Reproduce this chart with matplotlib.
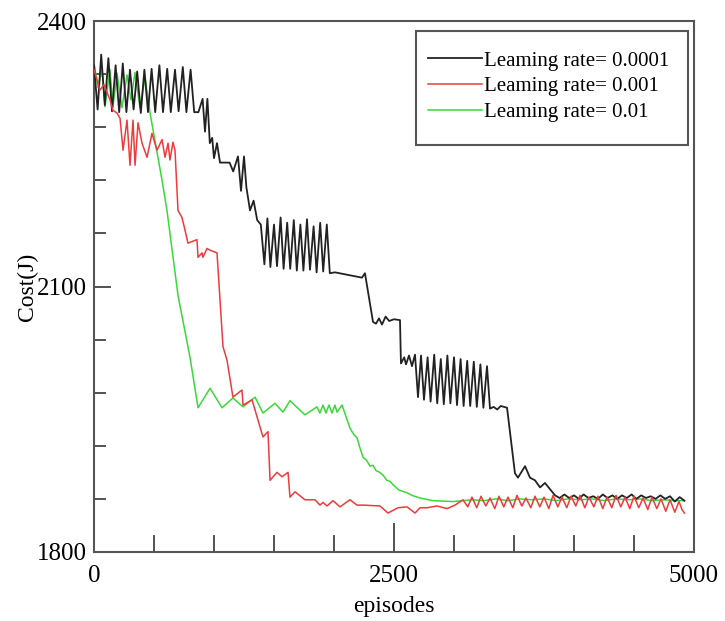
import numpy as np
import matplotlib
matplotlib.use("Agg")
import matplotlib.pyplot as plt
from matplotlib.ticker import MultipleLocator
from matplotlib.patches import Rectangle

# Learning rate = 0.0001 (black)
ep_lr4 = [0, 30, 60, 90, 120, 150, 180, 210, 240, 270, 300, 330, 360, 390, 420, 450,
          480, 510, 545, 575, 610, 640, 675, 705, 740, 770, 805, 835, 870,
          905, 925, 945, 965, 985, 1000, 1025, 1050, 1080, 1130, 1160, 1200, 1225,
          1250, 1270, 1300, 1330, 1360, 1390,
          1420, 1445, 1470, 1500, 1525, 1555, 1580, 1610, 1635, 1665, 1690, 1720,
          1745, 1775, 1800, 1830, 1855, 1885, 1910, 1940, 1965, 2008,
          2233, 2258, 2325, 2350, 2375, 2400, 2430, 2460, 2500, 2550, 2558,
          2585, 2600, 2625, 2650, 2675,
          2700, 2725, 2750, 2780, 2805, 2835, 2860, 2890, 2915, 2945, 2970, 3000,
          3025, 3055, 3080, 3110, 3135, 3165, 3190, 3220, 3245, 3275, 3300,
          3330, 3360, 3390, 3442, 3508, 3533, 3592, 3633, 3675, 3717, 3758, 3842,
          3880, 3920, 3960, 4000, 4040, 4080, 4120, 4160, 4200, 4240, 4280, 4320,
          4360, 4400, 4440, 4480, 4520, 4560, 4600, 4640, 4680, 4720, 4760, 4800,
          4840, 4880, 4920]
cost_lr4 = [2350, 2300, 2362, 2305, 2358, 2298, 2350, 2297, 2352, 2297, 2345, 2300,
            2343, 2296, 2345, 2297, 2346, 2297, 2350, 2297, 2346, 2297, 2345, 2298,
            2348, 2297, 2345, 2297, 2297,
            2312, 2275, 2312, 2262, 2268, 2245, 2262, 2240, 2240, 2240, 2230, 2247,
            2208, 2247, 2212, 2186, 2197, 2175, 2170,
            2125, 2177, 2122, 2170, 2123, 2178, 2120, 2172, 2120, 2175, 2118, 2170,
            2118, 2176, 2119, 2168, 2116, 2172, 2117, 2170, 2115, 2116,
            2110, 2115, 2060, 2058, 2064, 2057, 2066, 2061, 2063, 2062, 2013,
            2020, 2012, 2022, 2010, 2023,
            1975, 2022, 1972, 2020, 1970, 2023, 1968, 2018, 1967, 2022, 1968, 2020,
            1966, 2018, 1965, 2016, 1965, 2015, 1964, 2012, 1963, 2010, 1962,
            1964, 1961, 1965, 1963, 1889, 1884, 1897, 1884, 1881, 1873, 1878, 1864,
            1861, 1865, 1861, 1864, 1860, 1865, 1861, 1863, 1860, 1865, 1861, 1864,
            1860, 1864, 1861, 1865, 1860, 1864, 1861, 1863, 1860, 1864, 1860, 1863,
            1857, 1862, 1858]

# Learning rate = 0.001 (red)
ep_lr3 = [0, 50, 83, 133, 158, 192, 217, 242, 275, 300, 325, 342, 367, 400, 442,
          483, 525, 567, 592, 617, 633, 658, 675, 700, 733, 758, 783, 858, 867,
          900, 908, 942, 967, 1025, 1075, 1108, 1158, 1233, 1242, 1317, 1408, 1450,
          1467, 1525, 1567, 1617, 1633, 1675, 1758, 1842, 1883, 1908, 1942, 1992,
          2050, 2133, 2192, 2242, 2383, 2450, 2533, 2608, 2675, 2717, 2775, 2858,
          2942, 3008, 3075,
          3115, 3150, 3190, 3225, 3265, 3300, 3340, 3375, 3415, 3450, 3490, 3525,
          3565, 3600, 3640, 3675, 3715, 3750, 3790, 3825, 3865, 3900, 3940, 3975,
          4015, 4050, 4090, 4125, 4165, 4200, 4240, 4275, 4315, 4350, 4390, 4425,
          4465, 4500, 4540, 4575, 4615, 4650, 4690, 4725, 4765, 4800, 4840, 4875,
          4900, 4920]
cost_lr3 = [2345, 2322, 2328, 2311, 2299, 2296, 2290, 2254, 2288, 2237, 2288, 2237,
            2285, 2262, 2246, 2273, 2254, 2266, 2246, 2262, 2243, 2263, 2254, 2186,
            2178, 2164, 2149, 2153, 2133, 2138, 2133, 2143, 2141, 2138, 2032, 2017,
            1975, 1983, 1966, 1972, 1930, 1936, 1881, 1890, 1885, 1890, 1862, 1868,
            1859, 1859, 1853, 1856, 1852, 1858, 1851, 1859, 1853, 1853, 1852, 1844,
            1850, 1851, 1844, 1850, 1850, 1852, 1849, 1853, 1859,
            1851, 1862, 1850, 1863, 1852, 1861, 1849, 1863, 1851, 1862, 1850, 1864,
            1852, 1861, 1850, 1863, 1851, 1862, 1849, 1864, 1851, 1862, 1850, 1863,
            1852, 1864, 1850, 1862, 1851, 1863, 1849, 1862, 1850, 1864, 1851, 1862,
            1849, 1863, 1850, 1861, 1848, 1862, 1849, 1860, 1846, 1859, 1845, 1857,
            1848, 1844]

# Learning rate = 0.01 (green)
ep_lr2 = [0, 33, 67, 92, 133, 158, 192, 233, 275, 308, 342, 383, 425, 467, 567,
          608, 700, 800, 867, 967, 1067, 1158, 1242, 1342, 1408, 1508, 1575, 1633,
          1758, 1858, 1883, 1908, 1933, 1958, 1983, 2008, 2025, 2067, 2133, 2150,
          2170, 2192, 2215, 2242, 2270, 2300, 2325, 2350, 2380, 2408, 2440, 2465,
          2492, 2540, 2608, 2650, 2717, 2825, 2992, 3075,
          3150, 3250, 3350, 3450, 3550, 3650, 3750, 3850, 3950, 4050, 4150, 4250,
          4350, 4450, 4550, 4650, 4750, 4850, 4920]
cost_lr2 = [2352, 2325, 2345, 2303, 2345, 2303, 2341, 2302, 2339, 2311, 2342, 2302,
            2336, 2296, 2220, 2186, 2090, 2020, 1963, 1985, 1963, 1974, 1964, 1975,
            1957, 1968, 1958, 1971, 1955, 1964, 1957, 1966, 1957, 1966, 1957, 1966,
            1958, 1966, 1940, 1936, 1932, 1929, 1918, 1907, 1904, 1897, 1898, 1892,
            1890, 1887, 1881, 1880, 1876, 1870, 1867, 1864, 1861, 1858, 1857, 1858,
            1859, 1858, 1860, 1858, 1860, 1859, 1860, 1858, 1860, 1859, 1860, 1858,
            1860, 1859, 1860, 1858, 1859, 1858, 1858]

labels = ["Leaming rate= 0.0001", "Leaming rate= 0.001", "Leaming rate= 0.01"]

plt.rcParams["font.family"] = ["Liberation Serif", "DejaVu Serif"]

fig = plt.figure(figsize=(7.25, 6.21), dpi=100)
ax = fig.add_axes([94 / 725, 1 - 552 / 621, 600 / 725, 531 / 621])

ax.plot(ep_lr4, cost_lr4, color="#222222", lw=1.3, label=labels[0], zorder=3)
ax.plot(ep_lr3, cost_lr3, color="#ee3b3b", lw=1.1, label=labels[1], zorder=4)
ax.plot(ep_lr2, cost_lr2, color="#3ad93a", lw=1.1, label=labels[2], zorder=2)

ax.set_xlim(0, 5000)
ax.set_ylim(1800, 2400)
ax.set_xticks([0, 2500, 5000])
ax.set_yticks([1800, 2100, 2400])
ax.xaxis.set_minor_locator(MultipleLocator(500))
ax.yaxis.set_minor_locator(MultipleLocator(60))
ax.tick_params(axis="x", which="major", direction="in", length=21, width=1.3,
               color="#444444", labelsize=18, pad=9)
ax.tick_params(axis="x", which="minor", direction="in", length=12, width=1.3,
               color="#444444")
ax.tick_params(axis="y", which="major", direction="in", length=12, width=1.3,
               color="#444444", labelsize=18, pad=5)
ax.tick_params(axis="y", which="minor", direction="in", length=8.5, width=1.3,
               color="#444444")

for s in ax.spines.values():
    s.set_color("#555555")
    s.set_linewidth(1.5)

ax.set_xlabel("episodes", fontsize=17, labelpad=7)
ax.set_ylabel("Cost(J)", fontsize=17)
ax.yaxis.set_label_coords(-0.094, 0.5)

# legend entries without frame, frame drawn as a box behind them
leg = ax.legend(loc="upper left", bbox_to_anchor=((428 - 94) / 600, (552 - 51) / 531),
                borderaxespad=0, borderpad=0, fontsize=15, handlelength=2.6,
                handletextpad=0.1, labelspacing=0.29, frameon=False)
leg.set_zorder(6)
box = Rectangle(((416 - 94) / 600, (552 - 145) / 531), 272 / 600, 114 / 531,
                transform=ax.transAxes, facecolor="white", edgecolor="#555555",
                lw=1.5, zorder=5)
ax.add_patch(box)

fig.savefig("out.png", dpi=100)
